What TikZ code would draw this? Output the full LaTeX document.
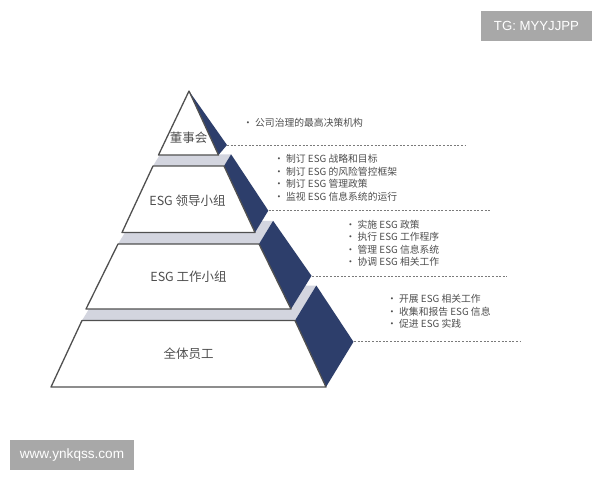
\documentclass[tikz,border=0pt]{standalone}
\usepackage{fontspec}
\setmainfont{Liberation Sans}
\newfontfamily\cjk{Noto Sans CJK SC}
\begin{document}
\begin{tikzpicture}[x=1pt,y=-1pt,
  front/.style={fill=white,draw=edgegray,line width=1.3pt,line join=round},
  side/.style={fill=navy,draw=none},
  topface/.style={fill=topgray,draw=none},
  guide/.style={draw=dashgray,line width=0.8pt,dash pattern=on 2pt off 1.6pt},
  tierlabel/.style={font=\cjk\fontsize{12.5}{14}\selectfont,text=txtgray,inner sep=0pt},
  bullets/.style={font=\cjk\fontsize{9.8}{12.5}\selectfont,text=txtgray,align=left,anchor=west,inner sep=0pt},
  wmbox/.style={fill=wmgray,text=white,inner sep=0pt}]
\definecolor{navy}{HTML}{2D3E6B}
\definecolor{topgray}{HTML}{D3D5DF}
\definecolor{edgegray}{HTML}{505050}
\definecolor{dashgray}{HTML}{7A7A7A}
\definecolor{txtgray}{HTML}{4E4E4E}
\definecolor{wmgray}{HTML}{A8A8A8}
\useasboundingbox[fill=white] (0,0) rectangle (600,480);

% tier 4
\fill[topface] (82,320.5) -- (295,320.5) -- (316.3,285.5) -- (103.3,285.5) -- cycle;
\fill[side] (295,320.5) -- (316.3,285.5) -- (353.5,341.8) -- (326,387) -- cycle;
\draw[front] (82,320.5) -- (295,320.5) -- (326,387) -- (51,387) -- cycle;
\coordinate (c4) at (354,341.5);
% tier 3
\fill[topface] (118,244) -- (259,244) -- (273.1,220.8) -- (132.1,220.8) -- cycle;
\fill[side] (259,244) -- (273.1,220.8) -- (311.5,275.8) -- (291,309) -- cycle;
\draw[front] (118,244) -- (259,244) -- (291,309) -- (86,309) -- cycle;
\coordinate (c3) at (312,276.5);
% tier 2
\fill[topface] (153,166) -- (224,166) -- (231.1,154.3) -- (160.1,154.3) -- cycle;
\fill[side] (224,166) -- (231.1,154.3) -- (268.3,210.6) -- (255,232.5) -- cycle;
\draw[front] (153,166) -- (224,166) -- (255,232.5) -- (122,232.5) -- cycle;
\coordinate (c2) at (268.5,210.5);
% tier 1
\fill[side] (189,91) -- (227,145) -- (218.5,155) -- cycle;
\draw[front] (189,91) -- (218.5,155) -- (158.5,155) -- cycle;
\coordinate (c1) at (227,145);

\coordinate (e1) at (466,145);
\coordinate (e2) at (490,210.5);
\coordinate (e3) at (507,276.5);
\coordinate (e4) at (520,341.5);
\draw[guide] (c1) -- (e1);
\draw[guide] (c2) -- (e2);
\draw[guide] (c3) -- (e3);
\draw[guide] (c4) -- (e4);

\node[tierlabel] (t1) at (188.5,138) {董事会};
\node[tierlabel] (t2) at (187.5,201) {ESG 领导小组};
\node[tierlabel] (t3) at (188.5,277) {ESG 工作小组};
\node[tierlabel] (t4) at (188.5,354) {全体员工};

\node[bullets] (b1) at (243,123) {• 公司治理的最高决策机构};
\node[bullets] (b2) at (274,177.7) {• 制订 ESG 战略和目标\\• 制订 ESG 的风险管控框架\\• 制订 ESG 管理政策\\• 监视 ESG 信息系统的运行};
\node[bullets] (b3) at (345.5,243) {• 实施 ESG 政策\\• 执行 ESG 工作程序\\• 管理 ESG 信息系统\\• 协调 ESG 相关工作};
\node[bullets] (b4) at (387,311.7) {• 开展 ESG 相关工作\\• 收集和报告 ESG 信息\\• 促进 ESG 实践};

\node[wmbox,minimum width=111pt,minimum height=30pt,font=\fontsize{13.2}{15}\selectfont] (w1) at (536.5,26) {TG: MYYJJPP};
\node[wmbox,minimum width=124pt,minimum height=30pt,font=\fontsize{13.6}{15}\selectfont] (w2) at (72,455) {www.ynkqss.com};
\end{tikzpicture}
\end{document}
